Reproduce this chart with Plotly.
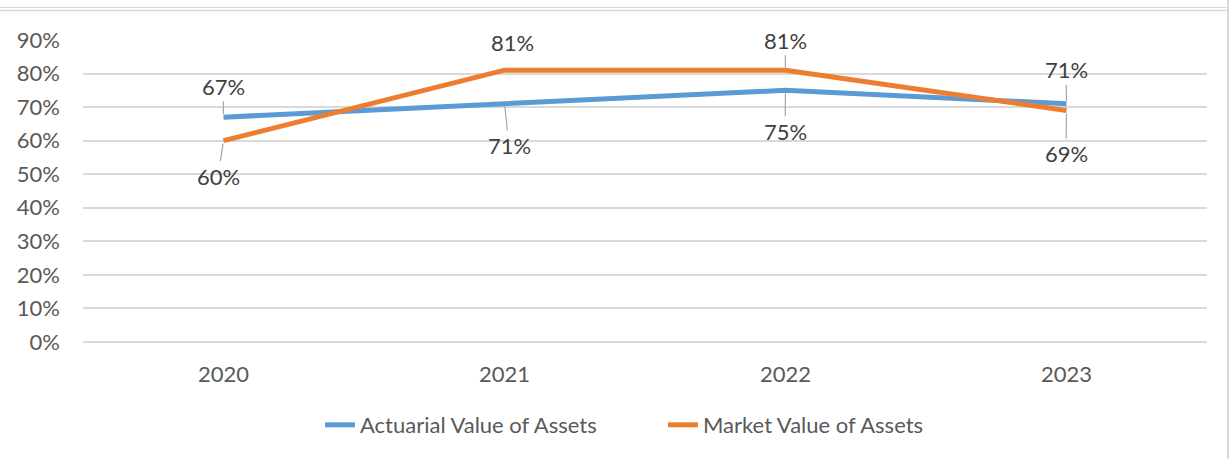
import plotly.graph_objects as go

# ---- data ----
years = ["2020", "2021", "2022", "2023"]
actuarial = [0.67, 0.71, 0.75, 0.71]
market = [0.60, 0.81, 0.81, 0.69]
series_names = ["Actuarial Value of Assets", "Market Value of Assets"]

# ---- layout constants ----
W, H = 1231, 459
L, R, T, B = 83, 24, 40, 117.3
PW, PH = W - L - R, H - T - B
FONT = "Lato, Carlito, Calibri, 'Liberation Sans', sans-serif"
BLUE = "#5B9BD5"
ORANGE = "#ED7D31"
GRID = "#D9D9D9"


def px2paper_x(px):
    return (px - L) / PW


def px2paper_y(py):
    return (H - B - py) / PH


fig = go.Figure()
fig.add_trace(go.Scatter(x=years, y=actuarial, mode="lines", name=series_names[0],
                         line=dict(color=BLUE, width=5), hoverinfo="skip"))
fig.add_trace(go.Scatter(x=years, y=market, mode="lines", name=series_names[1],
                         line=dict(color=ORANGE, width=5), hoverinfo="skip"))

# data label placements (pixel offsets of label centre from point), per series
act_offsets = [(-0.5, -31, True), (4.5, 41.5, True), (-0.5, 41, True), (-0.5, -34, True)]
mkt_offsets = [(-5.5, 35.5, True), (7.5, -28, False), (-0.5, -30, True), (-0.5, 43, True)]

annotations = []
for vals, offs in ((actuarial, act_offsets), (market, mkt_offsets)):
    for i, (v, (ax, ay, arrow)) in enumerate(zip(vals, offs)):
        a = dict(x=i, y=v, xref="x", yref="y", text=f"{round(v * 100)}%",
                 font=dict(family=FONT, size=22, color="#404040"))
        if arrow:
            a.update(showarrow=True, arrowhead=0, arrowwidth=1.2, arrowcolor="#A6A6A6",
                     ax=ax, ay=ay, standoff=3)
        else:
            a.update(showarrow=False, xshift=ax, yshift=-ay)
        annotations.append(a)

shapes = [
    dict(type="line", xref="paper", yref="paper", x0=px2paper_x(0), x1=px2paper_x(1228),
         y0=px2paper_y(7.5), y1=px2paper_y(7.5), line=dict(color=GRID, width=1)),
    dict(type="line", xref="paper", yref="paper", x0=px2paper_x(0), x1=px2paper_x(1228),
         y0=px2paper_y(10.5), y1=px2paper_y(10.5), line=dict(color=GRID, width=1.5)),
    dict(type="line", xref="paper", yref="paper", x0=px2paper_x(1228), x1=px2paper_x(1228),
         y0=px2paper_y(0), y1=px2paper_y(459), line=dict(color=GRID, width=2)),
]

fig.update_layout(
    width=W, height=H,
    margin=dict(l=L, r=R, t=T, b=B, pad=0),
    paper_bgcolor="white", plot_bgcolor="white",
    font=dict(family=FONT, size=22, color="#595959"),
    showlegend=True,
    legend=dict(orientation="h", xref="container", yref="container",
                x=320 / W, xanchor="left", y=1 - 425 / H, yanchor="middle",
                entrywidth=298, entrywidthmode="pixels",
                font=dict(family=FONT, size=22, color="#595959"),
                bgcolor="rgba(0,0,0,0)"),
    annotations=annotations,
    shapes=shapes,
)
fig.update_xaxes(type="category", range=[-0.5, 3.5], showgrid=False, showline=False,
                 zeroline=False, ticks="", ticklabelstandoff=17,
                 tickfont=dict(family=FONT, size=22, color="#595959"))
fig.update_yaxes(range=[0, 0.9], dtick=0.1, tickformat=".0%", showgrid=True,
                 gridcolor=GRID, gridwidth=1.5, zeroline=True, zerolinecolor=GRID,
                 zerolinewidth=1.5, showline=False, ticks="", ticklabelstandoff=22,
                 tickfont=dict(family=FONT, size=22, color="#595959"))

fig.write_html("out.html", config={"displayModeBar": False},
               post_script="document.body.style.margin='0';document.body.style.overflow='hidden';")
